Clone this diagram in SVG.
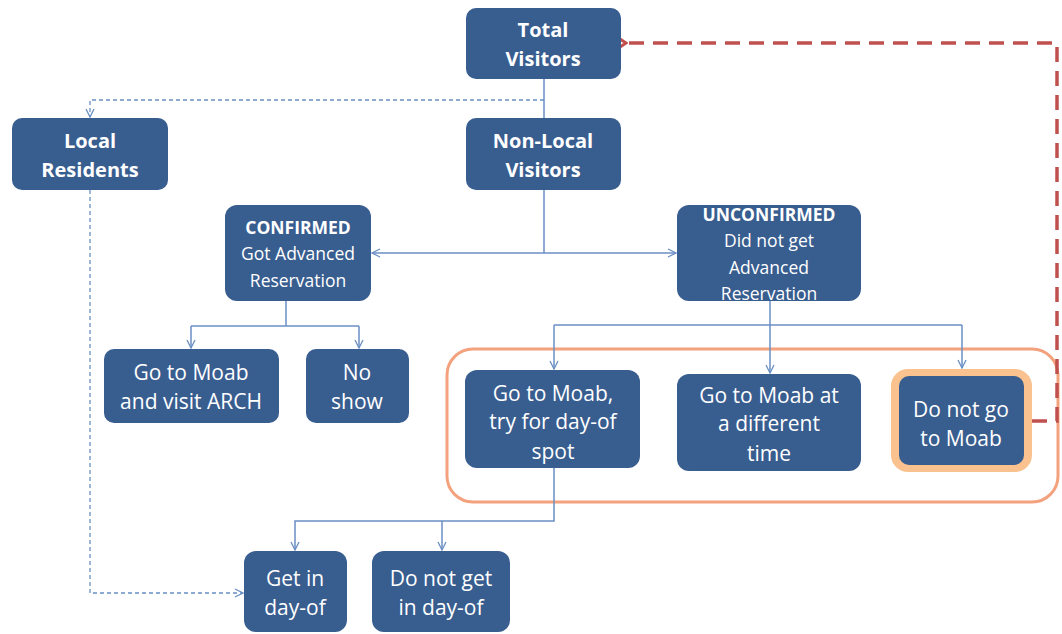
<svg xmlns="http://www.w3.org/2000/svg" width="1062" height="634" viewBox="0 0 1062 634">
<defs>
<marker id="ar" viewBox="0 0 10 10" refX="9" refY="5" markerWidth="10" markerHeight="10" markerUnits="userSpaceOnUse" orient="auto"><path d="M1,1 L9,5 L1,9" fill="none" stroke="#6A8FC4" stroke-width="1.3"/></marker>
<marker id="ard" viewBox="0 0 10 10" refX="9" refY="5" markerWidth="10" markerHeight="10" markerUnits="userSpaceOnUse" orient="auto"><path d="M1,1 L9,5 L1,9" fill="none" stroke="#6A8FC4" stroke-width="1.3"/></marker>
<marker id="arr" viewBox="0 0 12 14" refX="2" refY="7" markerWidth="12" markerHeight="14" markerUnits="userSpaceOnUse" orient="auto"><path d="M11,1 L2,7 L11,13" fill="none" stroke="#C0504D" stroke-width="3"/></marker>
</defs>
<style>
.box{fill:#385D8F;}
.t{fill:#fff;font-family:"Open Sans","Liberation Sans",sans-serif;text-anchor:middle;}
.b{font-weight:bold;font-size:20px;}
.m{font-size:21px;}
.s{font-size:17.5px;}
.c{fill:none;stroke:#6A8FC4;stroke-width:1.5;}
.d{fill:none;stroke:#6A8FC4;stroke-width:1.3;stroke-dasharray:4 3;}
</style>
<rect width="1062" height="634" fill="#fff"/>
<g id="group-orange"><rect x="447" y="349" width="611" height="153" rx="26" fill="none" stroke="#F4A27E" stroke-width="3"/></g>
<g id="connectors">
<path class="c" d="M544,79 V118"/>
<path class="d" d="M544,100 H90 V117" marker-end="url(#ard)"/>
<path class="d" d="M90,190 V593 H243" marker-end="url(#ard)"/>
<path class="c" d="M544,190 V253"/>
<path class="c" d="M544,253 H372" marker-end="url(#ar)"/>
<path class="c" d="M544,253 H676" marker-end="url(#ar)"/>
<path class="c" d="M286,301 V326"/>
<path class="c" d="M191,326 H359"/>
<path class="c" d="M191,326 V348" marker-end="url(#ar)"/>
<path class="c" d="M359,326 V348" marker-end="url(#ar)"/>
<path class="c" d="M770,301 V325"/>
<path class="c" d="M554,325 H962"/>
<path class="c" d="M554,325 V369" marker-end="url(#ar)"/>
<path class="c" d="M770,325 V373" marker-end="url(#ar)"/>
<path class="c" d="M962,325 V368" marker-end="url(#ar)"/>
<path class="c" d="M554,468 V521 H295 V550" marker-end="url(#ar)"/>
<path class="c" d="M442,521 V550" marker-end="url(#ar)"/>
<path d="M1032,421 H1057 V43 H626" fill="none" stroke="#C0504D" stroke-width="3.5" stroke-dasharray="15 9" marker-end="url(#arr)"/>
</g>
<g id="n-total"><rect class="box" x="466" y="8" width="155" height="71" rx="10"/><text class="t b" x="543" y="37">Total</text><text class="t b" x="543" y="66">Visitors</text></g>
<g id="n-local"><rect class="box" x="12" y="118" width="156" height="72" rx="10"/><text class="t b" x="90" y="148">Local</text><text class="t b" x="90" y="177">Residents</text></g>
<g id="n-nonlocal"><rect class="box" x="466" y="118" width="155" height="72" rx="10"/><text class="t b" x="543" y="148">Non-Local</text><text class="t b" x="543" y="177">Visitors</text></g>
<g id="n-confirmed"><rect class="box" x="225" y="205" width="146" height="96" rx="12"/><text class="t s" x="298" y="234" font-weight="bold" font-size="16.5">CONFIRMED</text><text class="t s" x="298" y="260">Got Advanced</text><text class="t s" x="298" y="287">Reservation</text></g>
<g id="n-unconfirmed"><rect class="box" x="677" y="205" width="184" height="96" rx="12"/><text class="t s" x="769" y="221" font-weight="bold" font-size="16.5">UNCONFIRMED</text><text class="t s" x="769" y="247">Did not get</text><text class="t s" x="769" y="274">Advanced</text><text class="t s" x="769" y="300">Reservation</text></g>
<g id="n-visit"><rect class="box" x="104" y="349" width="175" height="74" rx="10"/><text class="t m" x="191" y="380">Go to Moab</text><text class="t m" x="191" y="409">and visit ARCH</text></g>
<g id="n-noshow"><rect class="box" x="306" y="349" width="103" height="74" rx="10"/><text class="t m" x="357" y="380">No</text><text class="t m" x="357" y="409">show</text></g>
<g id="n-tryday"><rect class="box" x="465" y="370" width="175" height="98" rx="12"/><text class="t m" x="553" y="401">Go to Moab,</text><text class="t m" x="553" y="429">try for day-of</text><text class="t m" x="553" y="459">spot</text></g>
<g id="n-difftime"><rect class="box" x="677" y="374" width="184" height="97" rx="12"/><text class="t m" x="769" y="403">Go to Moab at</text><text class="t m" x="769" y="431">a different</text><text class="t m" x="769" y="461">time</text></g>
<g id="n-dontgo"><rect x="894" y="372" width="135" height="97" rx="14" fill="#F9C28F" stroke="#F9C28F" stroke-width="6"/><rect class="box" x="899" y="376" width="125" height="89" rx="10"/><text class="t m" x="961" y="417">Do not go</text><text class="t m" x="961" y="446">to Moab</text></g>
<g id="n-getin"><rect class="box" x="244" y="551" width="103" height="81" rx="12"/><text class="t m" x="295" y="586">Get in</text><text class="t m" x="295" y="615">day-of</text></g>
<g id="n-notgetin"><rect class="box" x="372" y="551" width="138" height="81" rx="12"/><text class="t m" x="441" y="586">Do not get</text><text class="t m" x="441" y="615">in day-of</text></g>
</svg>
